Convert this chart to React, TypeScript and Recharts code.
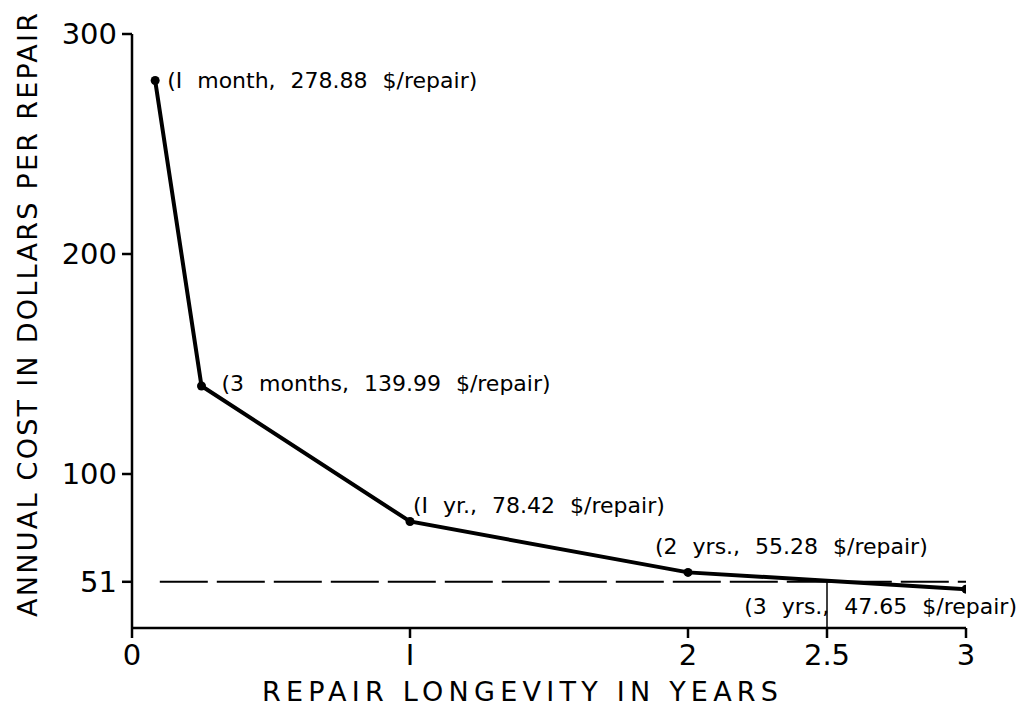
import { LineChart, Line, XAxis, YAxis, ReferenceLine, LabelList, Label } from "recharts";

// repair longevity (years) vs annual cost per repair
const years = [0.0833, 0.25, 1, 2, 3];
const costs = [278.88, 139.99, 78.42, 55.28, 47.65];
const notes = [
  "(I month, 278.88 $/repair)",
  "(3 months, 139.99 $/repair)",
  "(I yr., 78.42 $/repair)",
  "(2 yrs., 55.28 $/repair)",
  "(3 yrs., 47.65 $/repair)",
];
const xTicks = [0, 1, 2, 2.5, 3];
const yTicks = [51, 100, 200, 300];
const breakEven = 51;
const markYear = 2.5;

const data = years.map((y, i) => ({ year: y, cost: costs[i], note: notes[i] }));

const FONT = "'DejaVu Sans', sans-serif";

// where each note sits relative to its point
const noteOffset = [
  { dx: 12, dy: 8, anchor: "start" },
  { dx: 20, dy: 5, anchor: "start" },
  { dx: 3, dy: -8, anchor: "start" },
  { dx: -33, dy: -18, anchor: "start" },
  { dx: 51, dy: 25, anchor: "end" },
];

const NoteLabel = (props: any) => {
  const { x, y, index, value } = props;
  const o = noteOffset[index];
  return (
    <text x={x + o.dx} y={y + o.dy} textAnchor={o.anchor} fontFamily={FONT} fontSize={22}
      wordSpacing={8} fill="#000">
      {value}
    </text>
  );
};

const fmtX = (v: number) => (v === 1 ? "I" : String(v));

export default function App() {
  return (
    <div style={{ position: "absolute", left: 0, top: 0, background: "#fff" }}>
      <LineChart
        width={1027}
        height={711}
        data={data}
        margin={{ top: 34, right: 61, left: 32, bottom: 0 }}
      >
        <XAxis
          type="number"
          dataKey="year"
          domain={[0, 3]}
          ticks={xTicks}
          tickFormatter={fmtX}
          height={83}
          tickSize={10}
          tickMargin={6}
          stroke="#000"
          strokeWidth={2.5}
          tick={{ fill: "#000", fontSize: 29, fontFamily: FONT }}
          allowDataOverflow
        >
          <Label
            content={() => (
              <text x={520} y={701} textAnchor="middle" fontFamily={FONT} fontSize={27} fill="#000"
                textLength={516} lengthAdjust="spacing">
                REPAIR LONGEVITY IN YEARS
              </text>
            )}
          />
        </XAxis>
        <YAxis
          type="number"
          domain={[30, 300]}
          ticks={yTicks}
          width={100}
          tickSize={10}
          tickMargin={5}
          stroke="#000"
          strokeWidth={2.5}
          tick={{ fill: "#000", fontSize: 29, fontFamily: FONT }}
          allowDataOverflow
        >
          <Label
            content={() => (
              <text x={37} y={315} transform="rotate(-90 37 315)" textAnchor="middle" fontFamily={FONT}
                fontSize={27} fill="#000" textLength={604} lengthAdjust="spacing">
                ANNUAL COST IN DOLLARS PER REPAIR
              </text>
            )}
          />
        </YAxis>
        <ReferenceLine
          segment={[{ x: 0.1, y: breakEven }, { x: 3, y: breakEven }]}
          stroke="#000"
          strokeWidth={2}
          strokeDasharray="48 9"
        />
        <ReferenceLine
          segment={[{ x: markYear, y: 30 }, { x: markYear, y: breakEven }]}
          stroke="#000"
          strokeWidth={1.5}
        />
        <Line
          type="linear"
          dataKey="cost"
          stroke="#000"
          strokeWidth={4}
          dot={{ r: 4.5, fill: "#000", stroke: "#000", strokeWidth: 0 }}
          isAnimationActive={false}
        >
          <LabelList dataKey="note" content={NoteLabel} />
        </Line>
      </LineChart>
    </div>
  );
}
